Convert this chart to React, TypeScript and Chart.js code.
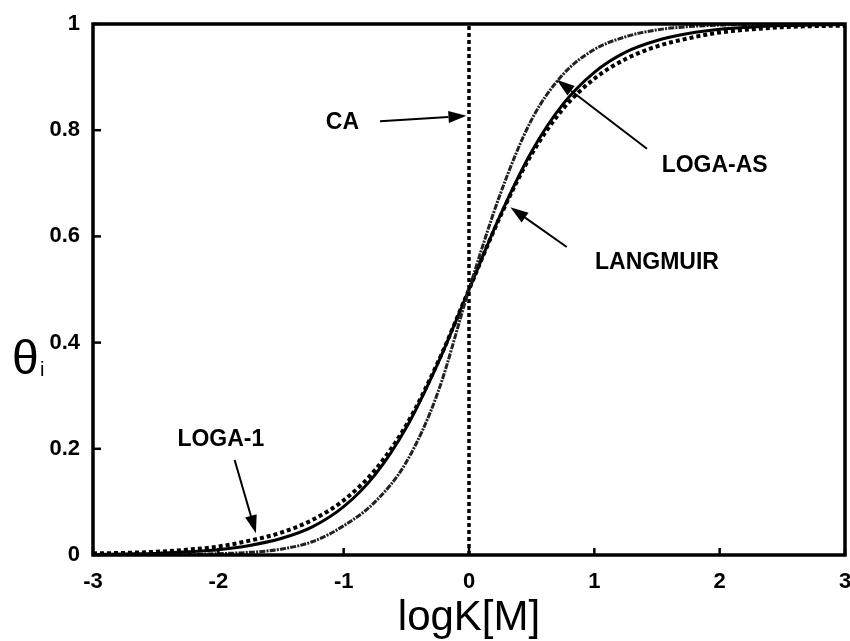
import React, { useEffect, useRef } from "react";
import { Chart, registerables } from "chart.js";

Chart.register(...registerables);

const xValues = [-3, -2.75, -2.5, -2.25, -2, -1.75, -1.5, -1.25, -1, -0.75, -0.5, -0.25, 0, 0.25, 0.5, 0.75, 1, 1.25, 1.5, 1.75, 2, 2.25, 2.5, 2.75, 3];
const langmuir = [0.001, 0.002, 0.003, 0.006, 0.01, 0.018, 0.031, 0.053, 0.091, 0.151, 0.24, 0.36, 0.5, 0.64, 0.76, 0.849, 0.909, 0.947, 0.969, 0.982, 0.99, 0.994, 0.997, 0.998, 0.999];
const loga1 = [0.003, 0.004, 0.006, 0.01, 0.016, 0.027, 0.042, 0.066, 0.103, 0.16, 0.245, 0.362, 0.5, 0.638, 0.755, 0.84, 0.897, 0.934, 0.958, 0.973, 0.984, 0.99, 0.994, 0.996, 0.997];
const logaAS = [0.0001, 0.0003, 0.0006, 0.0012, 0.0025, 0.005, 0.011, 0.025, 0.055, 0.1, 0.175, 0.305, 0.5, 0.68, 0.82, 0.905, 0.952, 0.976, 0.989, 0.995, 0.998, 0.999, 0.9995, 0.9998, 1.0];
const caX = [0, 0];
const caY = [0, 1];
const xTicks = [-3, -2, -1, 0, 1, 2, 3];
const yTicks = [0, 0.2, 0.4, 0.6, 0.8, 1];

type Note = { text: string; tx: number; ty: number; fx: number; fy: number; ax: number; ay: number };
const notes: Note[] = [
  { text: "CA", tx: -1.01, ty: 0.815, fx: -0.71, fy: 0.817, ax: -0.02, ay: 0.827 },
  { text: "LOGA-AS", tx: 1.96, ty: 0.733, fx: 1.42, fy: 0.765, ax: 0.7, ay: 0.895 },
  { text: "LANGMUIR", tx: 1.5, ty: 0.55, fx: 0.78, fy: 0.58, ax: 0.33, ay: 0.655 },
  { text: "LOGA-1", tx: -1.98, ty: 0.217, fx: -1.87, fy: 0.179, ax: -1.7, ay: 0.041 },
];

const pts = (xs: number[], ys: number[]) => xs.map((x, i) => ({ x, y: ys[i] }));

const decor = {
  id: "decor",
  afterDatasetsDraw(chart: any) {
    const { ctx, chartArea: a, scales } = chart;
    const xs = scales.x, ys = scales.y;
    ctx.save();
    ctx.strokeStyle = "#000";
    ctx.fillStyle = "#000";
    ctx.lineWidth = 3.5;
    ctx.strokeRect(a.left, a.top, a.right - a.left, a.bottom - a.top);
    ctx.lineWidth = 2.5;
    for (const t of xTicks) {
      const px = xs.getPixelForValue(t);
      ctx.beginPath();
      ctx.moveTo(px, a.bottom);
      ctx.lineTo(px, a.bottom - 7);
      ctx.stroke();
    }
    for (const t of yTicks) {
      const py = ys.getPixelForValue(t);
      ctx.beginPath();
      ctx.moveTo(a.left, py);
      ctx.lineTo(a.left + 8, py);
      ctx.stroke();
    }
    ctx.font = "bold 23px 'Liberation Sans', Arial, sans-serif";
    ctx.textAlign = "center";
    ctx.textBaseline = "middle";
    ctx.lineWidth = 2;
    for (const n of notes) {
      ctx.fillText(n.text, xs.getPixelForValue(n.tx), ys.getPixelForValue(n.ty));
      const x1 = xs.getPixelForValue(n.fx), y1 = ys.getPixelForValue(n.fy);
      const x2 = xs.getPixelForValue(n.ax), y2 = ys.getPixelForValue(n.ay);
      const ang = Math.atan2(y2 - y1, x2 - x1);
      const L = 18, W = 6;
      const bx = x2 - L * Math.cos(ang), by = y2 - L * Math.sin(ang);
      ctx.beginPath();
      ctx.moveTo(x1, y1);
      ctx.lineTo(bx, by);
      ctx.stroke();
      ctx.beginPath();
      ctx.moveTo(x2, y2);
      ctx.lineTo(bx + W * Math.sin(ang), by - W * Math.cos(ang));
      ctx.lineTo(bx - W * Math.sin(ang), by + W * Math.cos(ang));
      ctx.closePath();
      ctx.fill();
    }
    ctx.font = "42px 'Liberation Sans', Arial, sans-serif";
    ctx.textAlign = "center";
    ctx.textBaseline = "alphabetic";
    ctx.fillText("logK[M]", (a.left + a.right) / 2, 630);
    ctx.font = "48px 'Liberation Sans', Arial, sans-serif";
    ctx.textAlign = "left";
    ctx.fillText("\u03b8", 12, 374);
    ctx.font = "20px 'Liberation Sans', Arial, sans-serif";
    ctx.fillText("i", 40, 376);
    ctx.restore();
  },
};

export default function App() {
  const ref = useRef<HTMLCanvasElement | null>(null);
  useEffect(() => {
    if (!ref.current) return;
    const chart = new Chart(ref.current, {
      type: "line",
      data: {
        datasets: [
          { label: "CA", data: pts(caX, caY), borderColor: "#000", borderWidth: 3.5, borderDash: [4, 3], pointRadius: 0 },
          { label: "LOGA-AS", data: pts(xValues, logaAS), borderColor: "#222", borderWidth: 3, borderDash: [6, 1.2, 2, 1.2], pointRadius: 0, cubicInterpolationMode: "monotone" },
          { label: "LOGA-1", data: pts(xValues, loga1), borderColor: "#000", borderWidth: 4, borderDash: [4, 3], pointRadius: 0, cubicInterpolationMode: "monotone" },
          { label: "LANGMUIR", data: pts(xValues, langmuir), borderColor: "#000", borderWidth: 3, pointRadius: 0, cubicInterpolationMode: "monotone" },
        ],
      },
      options: {
        responsive: false,
        animation: false,
        devicePixelRatio: 1,
        layout: { padding: { top: 24, right: 5, left: 0, bottom: 0 } },
        plugins: { legend: { display: false }, tooltip: { enabled: false } },
        scales: {
          x: {
            type: "linear",
            min: -3,
            max: 3,
            afterFit: (s: any) => { s.height = 86; s.paddingLeft = 0; s.paddingRight = 0; },
            afterBuildTicks: (s: any) => { s.ticks = xTicks.map((v) => ({ value: v })); },
            grid: { display: false, drawTicks: false },
            border: { display: false },
            ticks: { color: "#000", padding: 14, font: { family: "'Liberation Sans', Arial, sans-serif", size: 22, weight: "bold" }, callback: (v: any) => String(v) },
          },
          y: {
            type: "linear",
            min: 0,
            max: 1,
            afterFit: (s: any) => { s.width = 93; s.paddingTop = 0; s.paddingBottom = 0; },
            afterBuildTicks: (s: any) => { s.ticks = yTicks.map((v) => ({ value: v })); },
            grid: { display: false, drawTicks: false },
            border: { display: false },
            ticks: { color: "#000", padding: 13, font: { family: "'Liberation Sans', Arial, sans-serif", size: 22, weight: "bold" }, callback: (v: any) => String(v) },
          },
        },
      },
      plugins: [decor],
    } as any);
    return () => chart.destroy();
  }, []);
  return (
    <div style={{ position: "absolute", left: 0, top: 0, width: 850, height: 641, background: "#fff" }}>
      <canvas ref={ref} width={850} height={641} />
    </div>
  );
}
